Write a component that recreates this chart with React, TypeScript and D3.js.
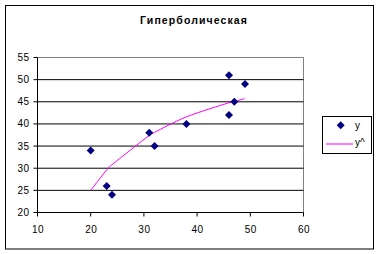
import React from "react";
import * as d3 from "d3";

const xValues = [20, 23, 24, 31, 32, 38, 46, 46, 47, 49];
const yValues = [34, 26, 24, 38, 35, 40, 51, 42, 45, 49];
const yHatValues = [25.0, 29.6, 30.8, 37.4, 38.1, 41.6, 44.8, 44.8, 45.1, 45.7];
const xTicks = [10, 20, 30, 40, 50, 60];
const yTicks = [20, 25, 30, 35, 40, 45, 50, 55];
const title = "Гиперболическая";
const legendLabels = ["y", "y^"];

const W = 380;
const H = 254;
const FONT = "'Liberation Sans', Arial, sans-serif";

export default function App() {
  const x = d3.scaleLinear().domain([10, 60]).range([37.5, 303.5]);
  const y = d3.scaleLinear().domain([20, 55]).range([212.5, 57.5]);
  const line = d3
    .line<number>()
    .x((_, i) => x(xValues[i]))
    .y((d) => y(d))
    .curve(d3.curveCatmullRom.alpha(0));
  const diamond = (cx: number, cy: number) =>
    `M${cx},${cy - 4}L${cx + 4},${cy}L${cx},${cy + 4}L${cx - 4},${cy}Z`;
  const [x0, x1] = x.range();
  const [yb, yt] = y.range();
  return (
    <svg
      width={W}
      height={H}
      style={{ position: "absolute", left: 0, top: 0, background: "#fff" }}
      fontFamily={FONT}
    >
      <rect x={5.5} y={5.5} width={368} height={243.5} fill="#fff" stroke="#000" strokeWidth={1} />
      <text x={194} y={24} textAnchor="middle" fontSize={10.5} fontWeight="bold" letterSpacing={1.1}>
        {title}
      </text>
      {/* plot frame */}
      <line x1={x0} x2={x1} y1={yt} y2={yt} stroke="#808080" />
      <line x1={x1} x2={x1} y1={yt} y2={yb} stroke="#808080" />
      {yTicks
        .filter((t) => t !== 20 && t !== 55)
        .map((t) => (
          <line key={"g" + t} x1={x0} x2={x1} y1={y(t)} y2={y(t)} stroke="#000" />
        ))}
      <line x1={x0} x2={x0} y1={yt} y2={yb} stroke="#000" />
      <line x1={x0} x2={x1} y1={yb} y2={yb} stroke="#000" />
      {yTicks.map((t) => (
        <g key={"y" + t}>
          <line x1={x0 - 4} x2={x0} y1={y(t)} y2={y(t)} stroke="#000" />
          <text x={29.5} y={y(t) + 3.5} textAnchor="end" fontSize={10} letterSpacing={0.5}>
            {t}
          </text>
        </g>
      ))}
      {xTicks.map((t) => (
        <g key={"x" + t}>
          <line x1={x(t)} x2={x(t)} y1={yb} y2={yb + 4} stroke="#000" />
          <text x={x(t) + 0.5} y={233.3} textAnchor="middle" fontSize={10} letterSpacing={0.5}>
            {t}
          </text>
        </g>
      ))}
      <path d={line(yHatValues) || ""} fill="none" stroke="#FF00FF" strokeWidth={1} />
      {yValues.map((v, i) => (
        <path key={"p" + i} d={diamond(x(xValues[i]), y(v))} fill="#000080" />
      ))}
      {/* legend */}
      <rect x={322.5} y={116.5} width={49} height={37} fill="#fff" stroke="#000" />
      <path d={diamond(340.7, 125.3)} fill="#000080" />
      <text x={355} y={128.5} fontSize={10}>
        {legendLabels[0]}
      </text>
      <line x1={326} x2={353} y1={144} y2={144} stroke="#FF00FF" />
      <text x={355} y={145.5} fontSize={10}>
        {legendLabels[1]}
      </text>
    </svg>
  );
}
